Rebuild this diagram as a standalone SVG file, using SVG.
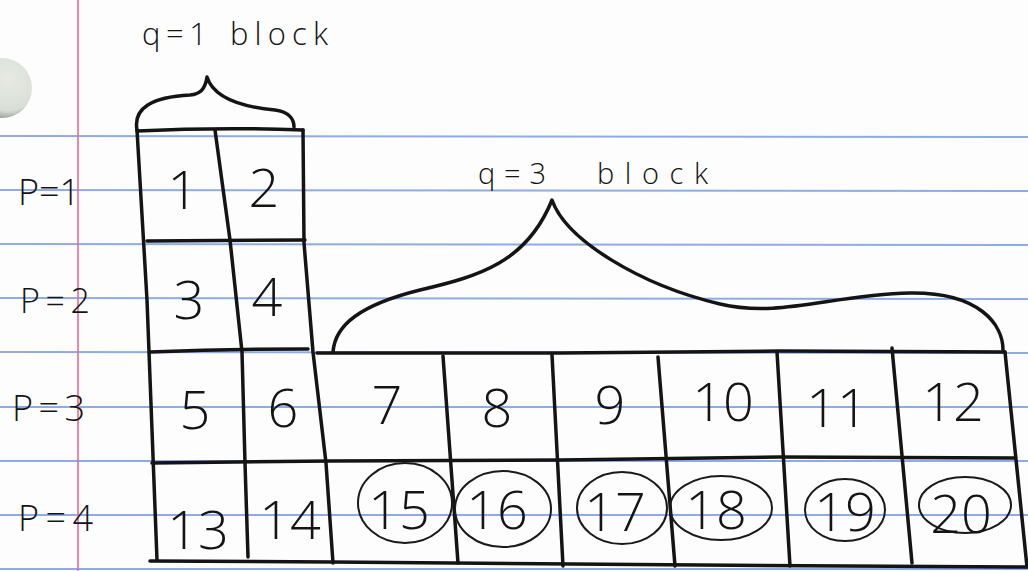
<svg xmlns="http://www.w3.org/2000/svg" width="1028" height="571" viewBox="0 0 1028 571">
<style>
.rule{stroke:#8eabe6;stroke-width:2;fill:none}
.ink{stroke:#141414;stroke-width:3.5;fill:none;stroke-linecap:round;stroke-linejoin:round}
.thin{stroke:#1a1a1a;stroke-width:2;fill:none}
.num{font-family:"Open Sans","Liberation Sans",sans-serif;font-weight:300;font-size:54px;fill:#141414;text-anchor:middle}
.lbl{font-family:"Open Sans","Liberation Sans",sans-serif;font-weight:300;fill:#141414}
</style>
<defs>
<radialGradient id="hole" cx="0.6" cy="0.35" r="0.7">
<stop offset="0" stop-color="#e6eae3"/>
<stop offset="0.75" stop-color="#d9dfd6"/>
<stop offset="1" stop-color="#8e918a"/>
</radialGradient>
</defs>
<rect width="1028" height="571" fill="#fdfdfd"/>
<g id="paper">
<line class="rule" x1="0" y1="136" x2="1028" y2="137"/>
<line class="rule" x1="0" y1="190" x2="1028" y2="191"/>
<line class="rule" x1="0" y1="244" x2="1028" y2="245"/>
<line class="rule" x1="0" y1="298" x2="1028" y2="299"/>
<line class="rule" x1="0" y1="352" x2="1028" y2="353"/>
<line class="rule" x1="0" y1="407" x2="1028" y2="407"/>
<line class="rule" x1="0" y1="461" x2="1028" y2="461"/>
<line class="rule" x1="0" y1="515" x2="1028" y2="515"/>
<line class="rule" x1="0" y1="569" x2="1028" y2="569"/>
<line x1="78" y1="0" x2="78" y2="571" stroke="#ea6a92" stroke-width="1.6"/>
<circle cx="2" cy="88" r="30" fill="url(#hole)"/>
</g>
<g id="grid">
<path class="ink" d="M137 131 Q220 127 303 130"/>
<path class="ink" d="M137 130 L147 300 L157 560"/>
<path class="ink" d="M215 130 L230 240 L242 352 L245 463 L248 557"/>
<path class="ink" d="M303 130 L304 243 L313 352 L326 463 L333 563"/>
<path class="ink" d="M147 241 L305 240"/>
<path class="ink" d="M150 352 Q230 349 308 349"/>
<path class="ink" d="M152 463 L330 461 L560 460 L780 457 L1015 458"/>
<path class="ink" d="M150 561 L333 562 L700 565 L1026 567"/>
<path class="ink" d="M317 353 L560 353 L780 351 L1005 352"/>
<path class="ink" d="M443 356 L458 563"/>
<path class="ink" d="M552 355 L563 566"/>
<path class="ink" d="M658 357 L675 566"/>
<path class="ink" d="M777 352 L790 566"/>
<path class="ink" d="M892 348 L912 563"/>
<path class="ink" d="M1005 352 L1027 567"/>
</g>
<g id="connectors">
<path class="ink" stroke-width="3" d="M137 130 C133 108 152 97 190 95 C200 94 205 90 207 77 C212 93 232 106 275 110 C290 112 294 120 294 127"/>
<path class="ink" stroke-width="3" d="M333 352 C335 325 360 305 420 290 C480 276 527 262 552 200 C566 240 640 285 720 304 C780 318 830 295 910 293 C980 292 1003 325 1003 350"/>
</g>
<g id="label-q1"><text class="lbl" y="45" font-size="31"><tspan x="142" textLength="65" lengthAdjust="spacing">q=1</tspan><tspan x="230" textLength="98" lengthAdjust="spacing">block</tspan></text></g>
<g id="label-q3"><text class="lbl" y="184" font-size="29"><tspan x="478" textLength="68" lengthAdjust="spacing">q=3</tspan><tspan x="597" textLength="111" lengthAdjust="spacing">block</tspan></text></g>
<g id="label-p1"><text class="lbl" x="18" y="205" font-size="36" textLength="62" lengthAdjust="spacing">P=1</text></g>
<g id="label-p2"><text class="lbl" x="20" y="313" font-size="34" textLength="70" lengthAdjust="spacing">P=2</text></g>
<g id="label-p3"><text class="lbl" x="12" y="421" font-size="36" textLength="73" lengthAdjust="spacing">P=3</text></g>
<g id="label-p4"><text class="lbl" x="18" y="531" font-size="36" textLength="75" lengthAdjust="spacing">P=4</text></g>
<g id="cell-1"><text class="num" x="183" y="209">1</text></g>
<g id="cell-2"><text class="num" x="264" y="207">2</text></g>
<g id="cell-3"><text class="num" x="189" y="319">3</text></g>
<g id="cell-4"><text class="num" x="267" y="316">4</text></g>
<g id="cell-5"><text class="num" x="195" y="429">5</text></g>
<g id="cell-6"><text class="num" x="283" y="427">6</text></g>
<g id="cell-13"><text class="num" x="198" y="549">13</text></g>
<g id="cell-14"><text class="num" x="290" y="539">14</text></g>
<g id="cell-7"><text class="num" x="387" y="424">7</text></g>
<g id="cell-8"><text class="num" x="497" y="427">8</text></g>
<g id="cell-9"><text class="num" x="610" y="424">9</text></g>
<g id="cell-10"><text class="num" x="723" y="421">10</text></g>
<g id="cell-11"><text class="num" x="837" y="427">11</text></g>
<g id="cell-12"><text class="num" x="953" y="421">12</text></g>
<g id="cell-15"><ellipse class="thin" cx="405" cy="503" rx="47" ry="40"/><text class="num" x="399" y="529">15</text></g>
<g id="cell-16"><ellipse class="thin" cx="503" cy="509" rx="48" ry="38"/><text class="num" x="497" y="529">16</text></g>
<g id="cell-17"><ellipse class="thin" cx="622" cy="508" rx="45" ry="36"/><text class="num" x="615" y="531">17</text></g>
<g id="cell-18"><ellipse class="thin" cx="721" cy="508" rx="51" ry="32"/><text class="num" x="716" y="529">18</text></g>
<g id="cell-19"><ellipse class="thin" cx="845" cy="510" rx="40" ry="31"/><text class="num" x="845" y="531">19</text></g>
<g id="cell-20"><ellipse class="thin" cx="965" cy="505" rx="46" ry="28"/><text class="num" x="961" y="533">20</text></g>
</svg>
